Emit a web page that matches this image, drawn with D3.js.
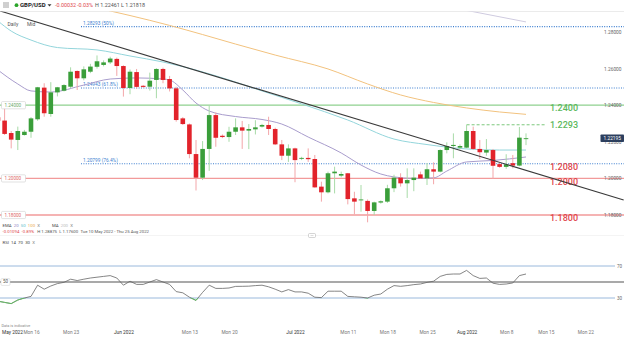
<!DOCTYPE html>
<html><head><meta charset="utf-8">
<script src="https://cdn.jsdelivr.net/npm/d3@7"></script>
<style>
html,body{margin:0;padding:0;background:#fff;}
svg{display:block;font-family:Roboto,"Open Sans",sans-serif;}
</style></head><body>
<svg id="c" width="624" height="337"></svg>
<script>
// ---------- DATA ----------
const dates = ["2022-05-10","2022-05-11","2022-05-12","2022-05-13","2022-05-15","2022-05-16","2022-05-17","2022-05-18","2022-05-19","2022-05-20",
"2022-05-22","2022-05-23","2022-05-24","2022-05-25","2022-05-26","2022-05-27","2022-05-29","2022-05-30","2022-05-31",
"2022-06-01","2022-06-02","2022-06-03","2022-06-05","2022-06-06","2022-06-07","2022-06-08","2022-06-09","2022-06-10","2022-06-12",
"2022-06-13","2022-06-14","2022-06-15","2022-06-16","2022-06-17","2022-06-19","2022-06-20","2022-06-21","2022-06-22","2022-06-23",
"2022-06-24","2022-06-26","2022-06-27","2022-06-28","2022-06-29","2022-06-30",
"2022-07-01","2022-07-03","2022-07-04","2022-07-05","2022-07-06","2022-07-07","2022-07-08","2022-07-10","2022-07-11","2022-07-12",
"2022-07-13","2022-07-14","2022-07-15","2022-07-17","2022-07-18","2022-07-19","2022-07-20","2022-07-21","2022-07-22","2022-07-24",
"2022-07-25","2022-07-26","2022-07-27","2022-07-28","2022-07-29","2022-07-31",
"2022-08-01","2022-08-02","2022-08-03","2022-08-04","2022-08-05","2022-08-07","2022-08-08","2022-08-09","2022-08-10","2022-08-11",
"2022-08-12","2022-08-14","2022-08-15","2022-08-16","2022-08-17","2022-08-18","2022-08-19","2022-08-21","2022-08-22","2022-08-23",
"2022-08-24","2022-08-25"];

const open  = [1.2334,1.2316,1.2248,1.2210,1.2237,1.2255,1.2323,1.2496,1.2352,1.2470,
1.2479,1.2501,1.2587,1.2547,1.2583,1.2610,1.2620,1.2634,1.2653,
1.2614,1.2494,1.2581,1.2506,1.2501,1.2538,1.2598,1.2543,1.2492,1.2328,
1.2295,1.2133,1.2004,1.2161,1.2346,1.2233,1.2226,1.2255,1.2279,1.2261,
1.2268,1.2283,1.2292,1.2270,1.2186,1.2124,
1.2164,1.2108,1.2112,1.2106,1.1955,1.1924,1.2028,1.2015,1.2028,1.1891,
1.1880,1.1877,1.1822,1.1868,1.1873,1.1946,1.2004,1.1973,1.1991,1.2022,
1.2000,1.2050,1.2037,1.2155,1.2177,1.2168,
1.2168,1.2259,1.2161,1.2141,1.2155,1.2078,1.2063,1.2083,1.2070,1.2218];
const high  = [1.2350,1.2383,1.2259,1.2283,1.2265,1.2335,1.2500,1.2520,1.2526,1.2500,
1.2515,1.2607,1.2590,1.2612,1.2626,1.2672,1.2645,1.2665,1.2660,
1.2618,1.2595,1.2598,1.2510,1.2578,1.2602,1.2605,1.2560,1.2501,1.2335,
1.2300,1.2210,1.2204,1.2401,1.2361,1.2240,1.2282,1.2328,1.2314,1.2297,
1.2318,1.2298,1.2337,1.2277,1.2210,1.2186,
1.2168,1.2118,1.2164,1.2128,1.1982,1.2037,1.2064,1.2037,1.2030,1.1927,
1.1964,1.1885,1.1873,1.1880,1.1965,1.2020,1.2028,1.2055,1.2055,1.2037,
1.2083,1.2088,1.2159,1.2197,1.2246,1.2186,
1.2293,1.2283,1.2210,1.2215,1.2161,1.2085,1.2132,1.2128,1.2281,1.22461];
const low   = [1.2300,1.2237,1.2164,1.2155,1.2234,1.2222,1.2315,1.2337,1.2337,1.2448,
1.2475,1.2492,1.2483,1.2536,1.2575,1.2600,1.2612,1.2625,1.2560,
1.2447,1.2460,1.2490,1.2495,1.2480,1.2438,1.2520,1.2475,1.2310,1.2292,
1.2110,1.1934,1.1991,1.2041,1.2173,1.2220,1.2200,1.2237,1.2161,1.2160,
1.2240,1.2278,1.2237,1.2182,1.2100,1.2090,
1.1979,1.2100,1.2090,1.1949,1.1873,1.1918,1.1918,1.2006,1.1858,1.1804,
1.1818,1.1760,1.1800,1.1862,1.1866,1.1925,1.1955,1.1893,1.1930,1.1997,
1.1964,1.1968,1.2033,1.2137,1.2110,1.2159,
1.2164,1.2155,1.2106,1.2124,1.1997,1.2058,1.2052,1.2055,1.2066,1.21818];
const close = [1.2315,1.2243,1.2212,1.2259,1.2255,1.2328,1.2498,1.2356,1.2470,1.2498,
1.2510,1.2583,1.2547,1.2596,1.2611,1.2640,1.2634,1.2655,1.2614,
1.2494,1.2583,1.2500,1.2500,1.2534,1.2598,1.2538,1.2492,1.2319,1.2297,
1.2133,1.2004,1.2161,1.2346,1.2222,1.2226,1.2255,1.2279,1.2261,1.2270,
1.2279,1.2292,1.2270,1.2186,1.2124,1.2164,
1.2100,1.2112,1.2105,1.1951,1.1924,1.2028,1.2037,1.2024,1.1887,1.1873,
1.1885,1.1822,1.1869,1.1875,1.1946,1.2004,1.1973,1.1991,1.2004,1.2000,
1.2050,1.2037,1.2155,1.2177,1.2183,1.2177,
1.2259,1.2161,1.2143,1.2155,1.2069,1.2063,1.2077,1.2070,1.22227,1.22195];

// moving averages: [candle index, value]
const ema20  = [[0,1.2592],[3,1.2516],[5,1.2478],[8,1.2472],[13,1.2510],[17,1.2543],[21,1.2549],[25,1.2543],[26,1.2538],[28,1.2483],
[30,1.2412],[32,1.2368],[36,1.2338],[40,1.2322],[43,1.2297],[47,1.2226],[52,1.2139],[55,1.2073],[58,1.2024],[60,1.2008],[63,1.2000],
[66,1.2003],[68,1.2040],[71,1.2090],[75,1.2098],[80,1.2117]];
const ema50  = [[0,1.2860],[2,1.2805],[5,1.2756],[9,1.2715],[15,1.2702],[20,1.2669],[25,1.2636],[30,1.2592],[35,1.2538],[40,1.2478],
[46,1.2407],[53,1.2319],[60,1.2215],[65,1.2185],[71,1.2161],[76,1.2155],[80,1.2155]];
const ema100 = [[10,1.2964],[14,1.2942],[17,1.2915],[20,1.2890],[26,1.2836],[31,1.2786],[36,1.2734],[42,1.2674],[50,1.2598],[56,1.2516],
[61,1.2456],[66,1.2415],[71,1.2385],[76,1.2363],[80,1.2350]];
const ma200  = [[60,1.2990],[65,1.2960],[70,1.2925],[75,1.2890],[80,1.2855]];

const rsi = [26,24.5,23,27.5,30,32,46,41,45,48,49.6,53.5,51.8,53.5,55,56,57,58,55,46,51,47,47,50,53,50,47,38,36.5,31,
27,37,46,42,42,42.5,44.5,44.6,44.8,45.5,46,44,41,37.6,40.5,37.6,37.6,36,31,30.5,38.5,38.5,38.5,32,31.5,31,30,33.5,35,41,
45.5,44.6,45.5,46.7,47.5,49.5,51,57,59.5,60,60,64.5,58,54.5,55,48.5,47,47.5,48.8,58,60];

const trendLine = [[0.3,1.2915],[94.8,1.1882]];
const fibValues = [1.28293,1.24943,1.20799];
const fibLabels = ["1.28293 (50%)","1.24943 (61.8%)","1.20799 (76.4%)"];
const greenLevels = [1.2400];
const redLevels = [1.2000,1.1800];
const keyLevelValues = [1.2400,1.2293,1.2080,1.2000,1.1800];
const keyLevelLabels = ["1.2400","1.2293","1.2080","1.2000","1.1800"];
const keyLevelColors = ["green","green","red","red","red"];
const resistanceStart = "2022-08-01";
const yTicks = [1.18,1.20,1.22,1.24,1.26,1.28];
const leftBoxLevels = [1.24,1.20,1.18];
const rsiLevels = [70,50,30];
const xTickDates = ["2022-05-16","2022-05-23","2022-06-01","2022-06-13","2022-06-20","2022-07-01","2022-07-11","2022-07-18","2022-07-25","2022-08-01","2022-08-08","2022-08-15","2022-08-22"];
const xTickLabels = ["Mon 16","Mon 23","Jun 2022","Mon 13","Mon 20","Jul 2022","Mon 11","Mon 18","Mon 25","Aug 2022","Mon 8","Mon 15","Mon 22"];
const lastPrice = 1.22195;

// ---------- CHART ----------
const svg = d3.select("#c");
const GREEN="#3a9e3a", GREEN_W="#a8dba8", RED="#e2232b", RED_W="#f3a6a9";
const LVL_G="#8fd18f", LVL_R="#f29a9a", TXT_G="#5cb85c", TXT_R="#e0474c", BLUE="#3d7fd0";

const x = d3.scaleLinear().domain([0,80]).range([-2,526]);
const y = d3.scaleLinear().domain([1.18,1.28]).range([215,32]);
const ry = d3.scaleLinear().domain([30,70]).range([298,266]);

const defs = svg.append("defs");
defs.append("clipPath").attr("id","mainClip").append("rect").attr("x",0).attr("y",11.5).attr("width",624).attr("height",214);
defs.append("clipPath").attr("id","rsiLow").append("rect").attr("x",0).attr("y",ry(30)).attr("width",624).attr("height",40);

// header
const hdr = svg.append("g");
[3,5,7].forEach(v=>hdr.append("line").attr("x1",3).attr("x2",9).attr("y1",v).attr("y2",v).attr("stroke","#888").attr("stroke-width",0.8));
hdr.append("circle").attr("cx",16.5).attr("cy",5.2).attr("r",1.9).attr("fill","#2aa52a");
hdr.append("text").attr("x",20).attr("y",7.3).attr("font-size",6).attr("font-weight","bold").attr("fill","#222").text("GBP/USD");
hdr.append("path").attr("d","M47.5,4.3 L51.5,4.3 L49.5,6.6 Z").attr("fill","#333");
hdr.append("text").attr("x",55).attr("y",7.3).attr("font-size",5.4).attr("fill",TXT_R).text("-0.00032");
hdr.append("text").attr("x",77).attr("y",7.3).attr("font-size",5.4).attr("fill",TXT_R).text("-0.03%");
hdr.append("text").attr("x",95).attr("y",7.3).attr("font-size",5.4).attr("fill","#555").text("H 1.22461  L 1.21818");
svg.append("line").attr("x1",0).attr("x2",624).attr("y1",11.5).attr("y2",11.5).attr("stroke","#e3e3e3").attr("stroke-width",0.7);

const main = svg.append("g").attr("clip-path","url(#mainClip)");

// horizontal level lines
main.selectAll(".gl").data(greenLevels).join("line").attr("x1",0).attr("x2",624)
  .attr("y1",d=>y(d)).attr("y2",d=>y(d)).attr("stroke",LVL_G).attr("stroke-width",1.3);
main.selectAll(".rl").data(redLevels).join("line").attr("x1",0).attr("x2",624)
  .attr("y1",d=>y(d)).attr("y2",d=>y(d)).attr("stroke",LVL_R).attr("stroke-width",1.3);

// fib lines
main.selectAll(".fib").data(fibValues).join("line").attr("x1",81).attr("x2",624)
  .attr("y1",d=>y(d)).attr("y2",d=>y(d)).attr("stroke",BLUE).attr("stroke-width",1.1).attr("stroke-dasharray","1,1.4");
main.selectAll(".fibt").data(fibValues).join("text").attr("x",83).attr("y",d=>y(d)-1.8)
  .attr("font-size",4.8).attr("fill",BLUE).text((d,i)=>fibLabels[i]);

// moving averages
const maLine = d3.line().x(d=>x(d[0])).y(d=>y(d[1])).curve(d3.curveMonotoneX);
main.append("path").attr("d",maLine(ma200)).attr("fill","none").attr("stroke","#cfcbe0").attr("stroke-width",1);
main.append("path").attr("d",maLine(ema100)).attr("fill","none").attr("stroke","#f2c27e").attr("stroke-width",1);
main.append("path").attr("d",maLine(ema50)).attr("fill","none").attr("stroke","#93d5db").attr("stroke-width",1);
main.append("path").attr("d",maLine(ema20)).attr("fill","none").attr("stroke","#a89ccc").attr("stroke-width",1);

// resistance dashed line 1.2293
const rIdx = dates.indexOf(resistanceStart);
main.append("line").attr("x1",x(rIdx)).attr("x2",545).attr("y1",y(1.2293)).attr("y2",y(1.2293))
  .attr("stroke","#7cc87c").attr("stroke-width",1).attr("stroke-dasharray","3,2");

// candles
const cIdx = d3.range(close.length);
main.selectAll(".wick").data(cIdx).join("line")
  .attr("x1",i=>x(i)).attr("x2",i=>x(i)).attr("y1",i=>y(high[i])).attr("y2",i=>y(low[i]))
  .attr("stroke",i=>close[i]>=open[i]?GREEN_W:RED_W).attr("stroke-width",1);
main.selectAll(".body").data(cIdx).join("rect")
  .attr("x",i=>x(i)-2.3).attr("width",4.6)
  .attr("y",i=>Math.min(y(open[i]),y(close[i])))
  .attr("height",i=>Math.max(Math.abs(y(open[i])-y(close[i])),0.9))
  .attr("fill",i=>close[i]>=open[i]?GREEN:RED);

// key level labels
main.selectAll(".kl").data(keyLevelValues).join("text")
  .attr("x",550).attr("y",(d,i)=> i===1 ? y(d)+3.2 : y(d)+6.2)
  .attr("font-size",9).attr("font-weight",500)
  .attr("fill",(d,i)=>keyLevelColors[i]==="green"?TXT_G:TXT_R).text((d,i)=>keyLevelLabels[i]);

// trend line
main.append("line").attr("x1",x(trendLine[0][0])).attr("y1",y(trendLine[0][1]))
  .attr("x2",x(trendLine[1][0])).attr("y2",y(trendLine[1][1])).attr("stroke","#3a3a3a").attr("stroke-width",1.1);

// left boxed level labels
const lb = svg.selectAll(".lb").data(leftBoxLevels).join("g").attr("transform",d=>`translate(1.5,${y(d)-3.6})`);
lb.append("rect").attr("width",24).attr("height",7.2).attr("fill","#fff").attr("stroke","#cfcfcf").attr("stroke-width",0.6).attr("rx",1);
lb.append("text").attr("x",3).attr("y",5.2).attr("font-size",4.6).attr("fill",d=>d>=1.24?"#6aa86a":"#d66").text(d=>d3.format(".5f")(d));

// "Daily Mid"
svg.append("text").attr("x",7.5).attr("y",26).attr("font-size",5).attr("fill","#555").text("Daily");
svg.append("text").attr("x",27).attr("y",26).attr("font-size",5).attr("fill","#555").text("Mid");

// right axis
const yAxis = d3.axisLeft(y).tickValues(yTicks).tickSize(0).tickPadding(1).tickFormat(d3.format(".5f"));
const ya = svg.append("g").attr("transform","translate(622.5,0)").call(yAxis);
ya.select(".domain").remove();
ya.selectAll("text").attr("font-size",4.8).attr("fill","#666").attr("font-family","Roboto");

// price box
svg.append("rect").attr("x",600.5).attr("y",y(lastPrice)-3.8).attr("width",23.5).attr("height",7.6).attr("fill","#2c3f5e").attr("rx",0.8);
svg.append("text").attr("x",612.2).attr("y",y(lastPrice)+1.8).attr("text-anchor","middle").attr("font-size",4.8).attr("fill","#fff").text(d3.format(".5f")(lastPrice));

// legend rows (laid out left to right)
const leg = svg.append("g").attr("font-size",4.3);
function row(yp, items){
  let cx = 2.5;
  items.forEach(([txt,col,gap])=>{
    const el = leg.append("text").attr("x",cx).attr("y",yp).attr("fill",col).text(txt);
    cx += el.node().getComputedTextLength() + (gap||2.2);
  });
}
row(226.5,[["EMA","#444"],["20","#8c7fc4"],["50","#5cc1cc"],["100","#eaa94a"],["X","#777",12],["MA","#444"],["200","#bbb"],["X","#777"]]);
row(232.8,[["-0.01094",TXT_R],["-0.89%",TXT_R,3],["H 1.28875","#555"],["L 1.17600","#555"],["Tue 10 May 2022 - Thu 25 Aug 2022","#555"]]);
row(243.5,[["RSI","#444"],["14","#444"],["70","#444"],["30","#444"],["X","#777"]]);

// panel separator + handle
svg.append("line").attr("x1",0).attr("x2",624).attr("y1",235.5).attr("y2",235.5).attr("stroke","#ececec").attr("stroke-width",0.6);
svg.append("rect").attr("x",308.5).attr("y",233.5).attr("width",7).attr("height",4).attr("rx",1).attr("fill","#fff").attr("stroke","#aaa").attr("stroke-width",0.5);
svg.append("line").attr("x1",310.5).attr("x2",313.5).attr("y1",235.5).attr("y2",235.5).attr("stroke","#aaa").attr("stroke-width",0.4);

// RSI panel
svg.selectAll(".rlv").data(rsiLevels).join("line")
  .attr("x1",0).attr("x2",d=>d===50?624:615).attr("y1",d=>ry(d)).attr("y2",d=>ry(d))
  .attr("stroke",d=>d===50?"#555":"#9ab9dc").attr("stroke-width",d=>d===50?1.2:1);
svg.selectAll(".rlt").data([70,30]).join("text").attr("x",617).attr("y",d=>ry(d)+1.6)
  .attr("font-size",4.5).attr("fill","#666").text(d=>d);
const b50 = svg.append("g").attr("transform",`translate(1,${ry(50)-3.4})`);
b50.append("rect").attr("width",9).attr("height",6.8).attr("fill","#fff").attr("stroke","#ccc").attr("stroke-width",0.5).attr("rx",1);
b50.append("text").attr("x",2).attr("y",4.9).attr("font-size",4.5).attr("fill","#555").text("50");
const rsiLine = d3.line().x((d,i)=>x(i)).y(d=>ry(d));
svg.append("path").attr("d",rsiLine(rsi)).attr("fill","none").attr("stroke","#666").attr("stroke-width",0.8);
svg.append("path").attr("d",rsiLine(rsi)).attr("fill","none").attr("stroke","#5cbf5c").attr("stroke-width",0.9).attr("clip-path","url(#rsiLow)");

// x axis
const xAxis = d3.axisBottom(x).tickValues(xTickDates.map(d=>dates.indexOf(d))).tickSize(0).tickPadding(0)
  .tickFormat((d,i)=>xTickLabels[i]);
const xa = svg.append("g").attr("transform","translate(0,330.3)").call(xAxis);
xa.select(".domain").remove();
xa.selectAll("text").attr("font-size",4.8).attr("font-family","Roboto")
  .attr("fill",(d,i)=>xTickLabels[i].indexOf("2022")>0?"#333":"#777");
svg.append("text").attr("x",2).attr("y",333.7).attr("font-size",4.8).attr("fill","#333").text("May 2022");
svg.append("text").attr("x",1.5).attr("y",326.5).attr("font-size",3.8).attr("fill","#888").text("Data is indicative");
</script>
</body></html>
